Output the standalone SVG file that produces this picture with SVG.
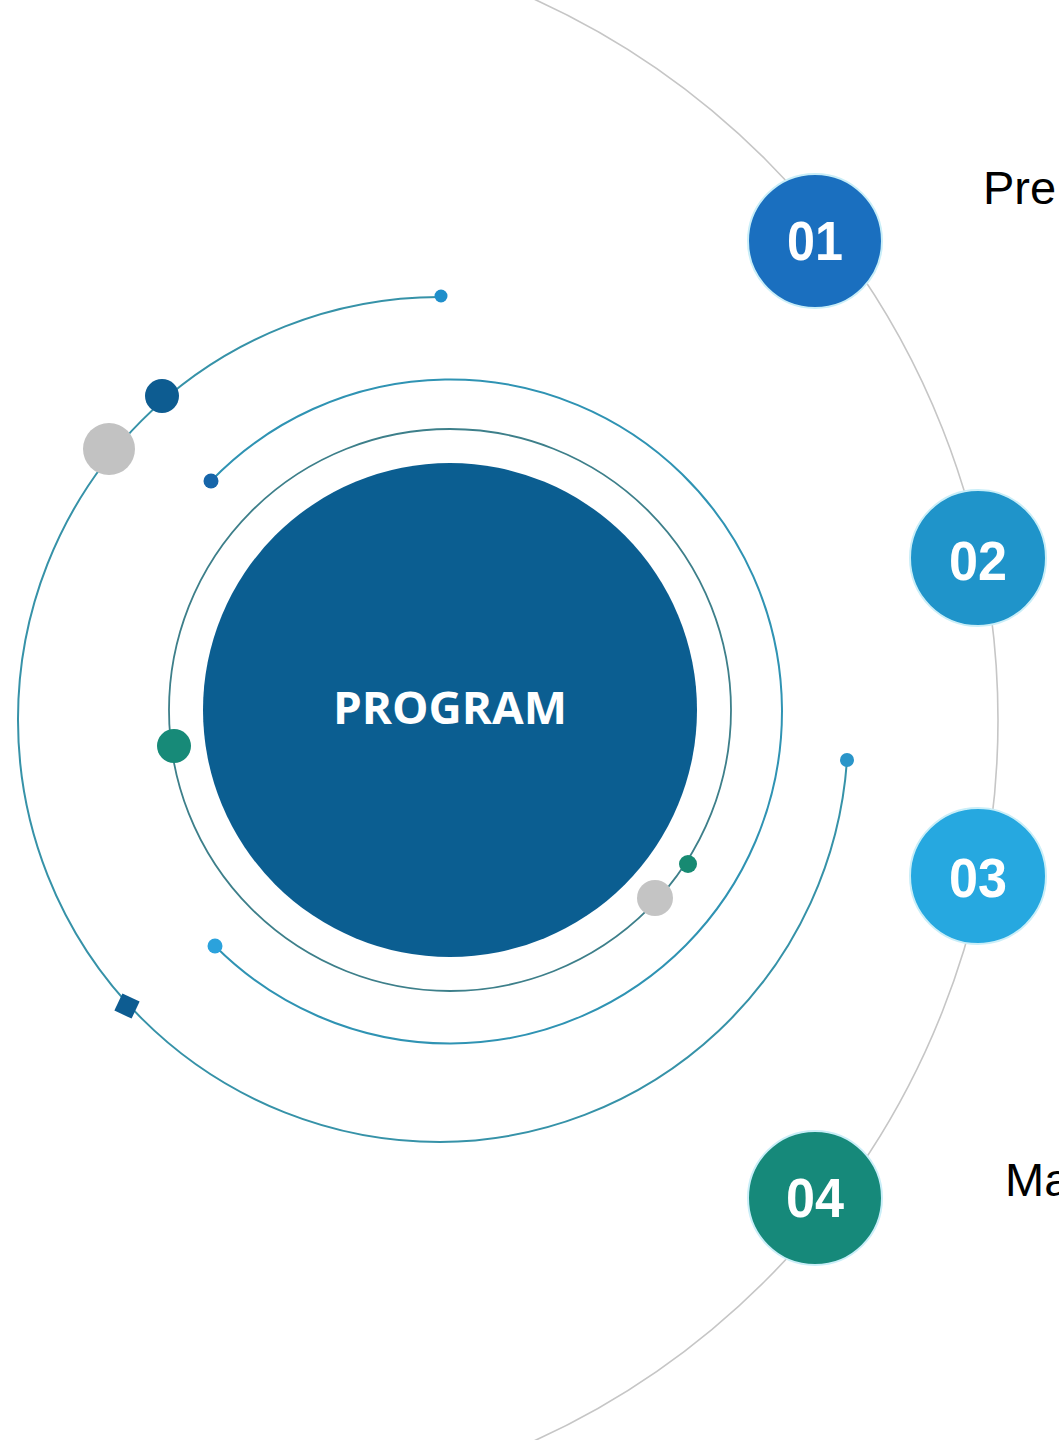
<svg xmlns="http://www.w3.org/2000/svg" width="1059" height="1440" viewBox="0 0 1059 1440">
  <style>
    .ring { fill: none; stroke-linecap: round; }
    .num { font-family: "Liberation Sans", Arial, sans-serif; font-weight: bold; font-size: 55px; fill: #ffffff; text-anchor: middle; }
    .lbl { font-family: "Liberation Sans", Arial, sans-serif; font-size: 47px; fill: #000000; }
    .badge { stroke: #c9eef8; stroke-width: 2; }
  </style>
  <rect x="0" y="0" width="1059" height="1440" fill="#ffffff"/>

  <g id="connectors">
    <circle cx="206" cy="720" r="792" fill="none" stroke="#c6c6c6" stroke-width="1.6"/>
  </g>

  <g id="orbits">
    <path class="ring" d="M441,297 A422,422 0 0 0 18,720 A422,422 0 0 0 440,1142 A410,410 0 0 0 847,760" stroke="#3692a8" stroke-width="2"/>
    <path class="ring" d="M211,481 A332,332 0 1 1 215,946" stroke="#2f93b3" stroke-width="2"/>
    <circle class="ring" cx="450" cy="710" r="281" stroke="#3d7f8a" stroke-width="1.8"/>

    <circle cx="441" cy="296" r="6.5" fill="#1f8fcb"/>
    <circle cx="162" cy="396" r="17" fill="#0d5c91"/>
    <circle cx="109" cy="449" r="26" fill="#c2c2c2"/>
    <rect x="117.5" y="996.5" width="19" height="19" fill="#0d5c91" transform="rotate(25 127 1006)"/>
    <circle cx="847" cy="760" r="7" fill="#2a95c9"/>
    <circle cx="211" cy="481" r="7.5" fill="#1665a9"/>
    <circle cx="215" cy="946" r="7.5" fill="#2ba2dc"/>
    <circle cx="174" cy="746" r="17" fill="#178a78"/>
    <circle cx="688" cy="864" r="9" fill="#178a72"/>
    <circle cx="655" cy="898" r="18" fill="#c4c4c4"/>
  </g>

  <g id="center">
    <circle cx="450" cy="710" r="247" fill="#0b5e91"/>
    <text x="450" y="724" text-anchor="middle" font-family="'Open Sans', 'Noto Sans', sans-serif" font-weight="bold" font-size="45" fill="#ffffff" textLength="234" lengthAdjust="spacingAndGlyphs">PROGRAM</text>
  </g>

  <g id="node-01">
    <circle class="badge" cx="815" cy="241" r="67" fill="#1a6fbf"/>
    <text class="num" x="815" y="260" textLength="56" lengthAdjust="spacingAndGlyphs">01</text>
  </g>
  <g id="node-02">
    <circle class="badge" cx="978" cy="558" r="68" fill="#1f94ca"/>
    <text class="num" x="978" y="580" textLength="58" lengthAdjust="spacingAndGlyphs">02</text>
  </g>
  <g id="node-03">
    <circle class="badge" cx="978" cy="876" r="68" fill="#26a8e0"/>
    <text class="num" x="978" y="897" textLength="58" lengthAdjust="spacingAndGlyphs">03</text>
  </g>
  <g id="node-04">
    <circle class="badge" cx="815" cy="1198" r="67" fill="#16897a"/>
    <text class="num" x="815" y="1217" textLength="58" lengthAdjust="spacingAndGlyphs">04</text>
  </g>

  <g id="labels">
    <text class="lbl" x="983" y="204">Pre</text>
    <text class="lbl" x="1005" y="1196">Ma</text>
  </g>
</svg>
